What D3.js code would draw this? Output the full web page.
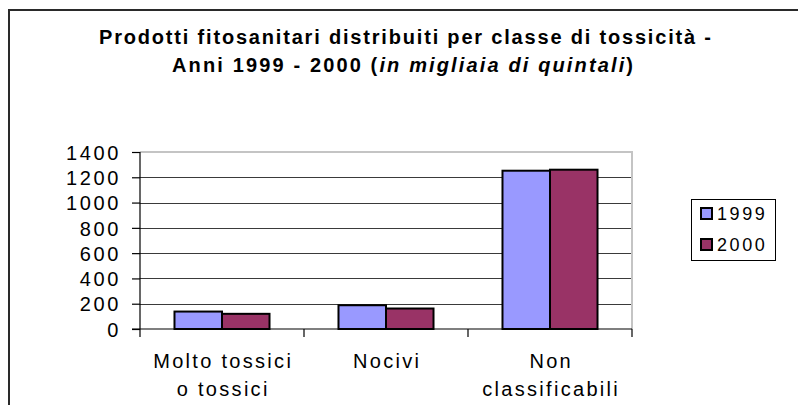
<!DOCTYPE html>
<html>
<head>
<meta charset="utf-8">
<script src="https://cdn.jsdelivr.net/npm/d3@7"></script>
<style>
  html, body { margin: 0; padding: 0; background: #fff; }
  svg { display: block; font-family: "Liberation Sans", Arial, sans-serif; }
</style>
</head>
<body>
<svg id="chart" width="798" height="405"></svg>
<script>
// Prodotti fitosanitari distribuiti per classe di tossicità (migliaia di quintali)
const categories = [["Molto tossici", "o tossici"], ["Nocivi"], ["Non", "classificabili"]];
const categoryKeys = ["Molto tossici o tossici", "Nocivi", "Non classificabili"];
const years = ["1999", "2000"];
const values1999 = [138, 188, 1252];
const values2000 = [120, 162, 1260];
const yTicks = [0, 200, 400, 600, 800, 1000, 1200, 1400];
const colors = ["#9999FF", "#993366"];

const series = [values1999, values2000];
const svg = d3.select("#chart");

// outer chart frame
svg.append("rect")
  .attr("x", 9).attr("y", 10)
  .attr("width", 900).attr("height", 500)
  .attr("fill", "none").attr("stroke", "#2a2a2a").attr("stroke-width", 2);

// title
const title = svg.append("g").attr("font-weight", "bold").attr("font-size", 20).attr("fill", "#000");
title.append("text")
  .attr("x", 99).attr("y", 44)
  .attr("textLength", 612).attr("lengthAdjust", "spacing")
  .text("Prodotti fitosanitari distribuiti per classe di tossicità -");
const t2 = title.append("text")
  .attr("x", 172).attr("y", 72)
  .attr("textLength", 461).attr("lengthAdjust", "spacing");
t2.append("tspan").text("Anni 1999 - 2000 (");
t2.append("tspan").attr("font-style", "italic").text("in migliaia di quintali");
t2.append("tspan").text(")");

// plot geometry
const plotLeft = 140, plotRight = 632, plotTop = 152, plotBottom = 329;

const y = d3.scaleLinear().domain([0, 1400]).range([plotBottom, plotTop]);
const x0 = d3.scaleBand().domain(categoryKeys).range([plotLeft, plotRight]).padding(0);
const x1 = d3.scaleBand().domain(years).range([0, x0.bandwidth()])
  .paddingInner(0).paddingOuter(0.726);

// gridlines
svg.append("g")
  .selectAll("line")
  .data(yTicks.filter(d => d > 0 && d < 1400))
  .join("line")
  .attr("x1", plotLeft).attr("x2", plotRight)
  .attr("y1", d => Math.round(y(d)) + 0.5).attr("y2", d => Math.round(y(d)) + 0.5)
  .attr("stroke", "#3a3a3a").attr("stroke-width", 1);

// plot area border (top and right)
svg.append("path")
  .attr("d", `M${plotLeft},${plotTop} H${plotRight} V${plotBottom}`)
  .attr("fill", "none").attr("stroke", "#c4c4c4").attr("stroke-width", 2);

// bars
const groups = svg.append("g").selectAll("g")
  .data(categoryKeys)
  .join("g")
  .attr("transform", d => `translate(${x0(d)},0)`);

groups.selectAll("rect")
  .data((d, i) => years.map((yr, j) => ({ yr, v: series[j][i], c: colors[j] })))
  .join("rect")
  .attr("x", d => x1(d.yr))
  .attr("y", d => y(d.v))
  .attr("width", x1.bandwidth())
  .attr("height", d => y(0) - y(d.v))
  .attr("fill", d => d.c)
  .attr("stroke", "#000").attr("stroke-width", 2);

// y axis
const yAxis = d3.axisLeft(y).tickValues(yTicks).tickSize(8).tickPadding(0).tickFormat(d3.format("d"));
const gy = svg.append("g").attr("transform", `translate(${plotLeft},0)`).call(yAxis);
gy.select(".domain").remove();
gy.append("line").attr("x1", 0).attr("x2", 0).attr("y1", plotTop).attr("y2", plotBottom + 8)
  .attr("stroke", "#000").attr("stroke-width", 1.2);
gy.selectAll(".tick line").attr("stroke", "#000").attr("stroke-width", 1.2);
gy.selectAll(".tick text")
  .attr("x", -19)
  .attr("dy", "0.36em")
  .attr("font-size", 20)
  .attr("letter-spacing", 2.6)
  .attr("fill", "#000")
  .attr("font-family", "\"Liberation Sans\", Arial, sans-serif");

// x axis
svg.append("line")
  .attr("x1", plotLeft - 8).attr("x2", plotRight)
  .attr("y1", plotBottom).attr("y2", plotBottom)
  .attr("stroke", "#000").attr("stroke-width", 1.2);
const bounds = [...categoryKeys.map(d => x0(d)), plotRight];
svg.append("g").selectAll("line")
  .data(bounds.slice(1))
  .join("line")
  .attr("x1", d => d).attr("x2", d => d)
  .attr("y1", plotBottom).attr("y2", plotBottom + 8)
  .attr("stroke", "#000").attr("stroke-width", 1.2);

// category labels
const labels = svg.append("g").attr("font-size", 20).attr("letter-spacing", 2.3)
  .attr("fill", "#000").attr("text-anchor", "middle");
categoryKeys.forEach((k, i) => {
  categories[i].forEach((line, j) => {
    labels.append("text")
      .attr("x", x0(k) + x0.bandwidth() / 2 + 1.2)
      .attr("y", 368 + j * 28)
      .text(line);
  });
});

// legend
const lg = svg.append("g");
lg.append("rect")
  .attr("x", 691.5).attr("y", 199.5).attr("width", 84).attr("height", 61)
  .attr("fill", "#fff").attr("stroke", "#000").attr("stroke-width", 1);
years.forEach((yr, j) => {
  const cy = 214 + j * 31;
  lg.append("rect")
    .attr("x", 701).attr("y", cy - 6).attr("width", 11).attr("height", 11)
    .attr("fill", colors[j]).attr("stroke", "#000").attr("stroke-width", 2);
  lg.append("text")
    .attr("x", 717).attr("y", cy).attr("dy", "0.36em")
    .attr("font-size", 18).attr("letter-spacing", 2.6).attr("fill", "#000")
    .text(yr);
});
</script>
</body>
</html>
